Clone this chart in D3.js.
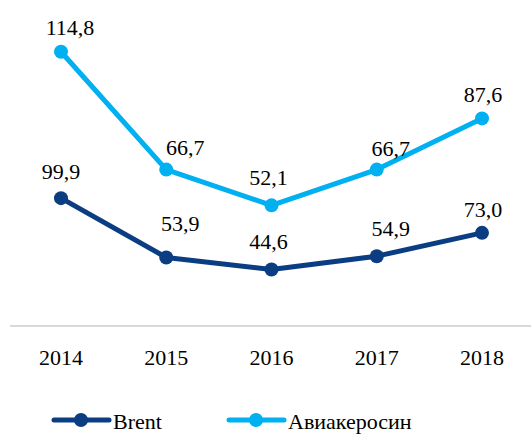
<!DOCTYPE html>
<html><head><meta charset="utf-8">
<script src="https://cdn.jsdelivr.net/npm/d3@7"></script>
<style>body{margin:0;background:#fff}svg{display:block}</style>
</head><body>
<script>
const years = ["2014","2015","2016","2017","2018"];
const brent = [99.9, 53.9, 44.6, 54.9, 73.0];
const jet = [114.8, 66.7, 52.1, 66.7, 87.6];
const seriesNames = ["Brent", "Авиакеросин"];
const colors = ["#0b3d83", "#00b0f0"];
// label offsets (dx, dy) relative to each point
const brentLabelOff = [[0,-19],[14,-26],[-3,-20],[14,-20],[1,-16]];
const jetLabelOff = [[9,-17],[19,-15],[-3,-20],[14,-14],[1,-16]];

const FONT = "Liberation Serif";
const W = 531, H = 435;
const svg = d3.select("body").append("svg").attr("width", W).attr("height", H);
const x = d3.scalePoint().domain(years).range([61, 482]);
const yB = d3.scaleLinear().domain([0, 100]).range([327, 198]);
const yJ = d3.scaleLinear().domain([0, 120]).range([333, 39]);
const fmt = v => d3.format(".1f")(v).replace(".", ",");

svg.append("line").attr("x1", 10).attr("x2", W).attr("y1", 326).attr("y2", 326)
  .attr("stroke", "#d9d9d9").attr("stroke-width", 2);
svg.selectAll("text.yr").data(years).join("text").attr("class","yr")
  .attr("x", d => x(d)).attr("y", 365).attr("text-anchor", "middle")
  .attr("font-family", FONT).attr("font-size", 22).attr("fill", "#000").text(d => d);

function drawSeries(vals, y, color, offs) {
  const line = d3.line().x((d,i) => x(years[i])).y(d => y(d));
  svg.append("path").datum(vals).attr("d", line).attr("fill", "none")
    .attr("stroke", color).attr("stroke-width", 5).attr("stroke-linejoin", "round");
  const g = svg.append("g");
  g.selectAll("circle").data(vals).join("circle")
    .attr("cx", (d,i) => x(years[i])).attr("cy", d => y(d)).attr("r", 7).attr("fill", color);
  g.selectAll("text").data(vals).join("text")
    .attr("x", (d,i) => x(years[i]) + offs[i][0]).attr("y", (d,i) => y(d) + offs[i][1])
    .attr("text-anchor", "middle").attr("font-family", FONT).attr("font-size", 22)
    .attr("fill", "#000").text(d => fmt(d));
}
drawSeries(brent, yB, colors[0], brentLabelOff);
drawSeries(jet, yJ, colors[1], jetLabelOff);

const legX = [54, 229];
const leg = svg.selectAll("g.leg").data(seriesNames).join("g").attr("class","leg")
  .attr("transform", (d,i) => `translate(${legX[i]},420)`);
leg.append("line").attr("x1", 0).attr("x2", 55).attr("stroke", (d,i) => colors[i])
  .attr("stroke-width", 5).attr("stroke-linecap", "round");
leg.append("circle").attr("cx", 27).attr("r", 7).attr("fill", (d,i) => colors[i]);
leg.append("text").attr("x", 59).attr("y", 9).attr("font-family", FONT).attr("font-size", 22)
  .attr("fill", "#000").text(d => d);
</script>
</body></html>
